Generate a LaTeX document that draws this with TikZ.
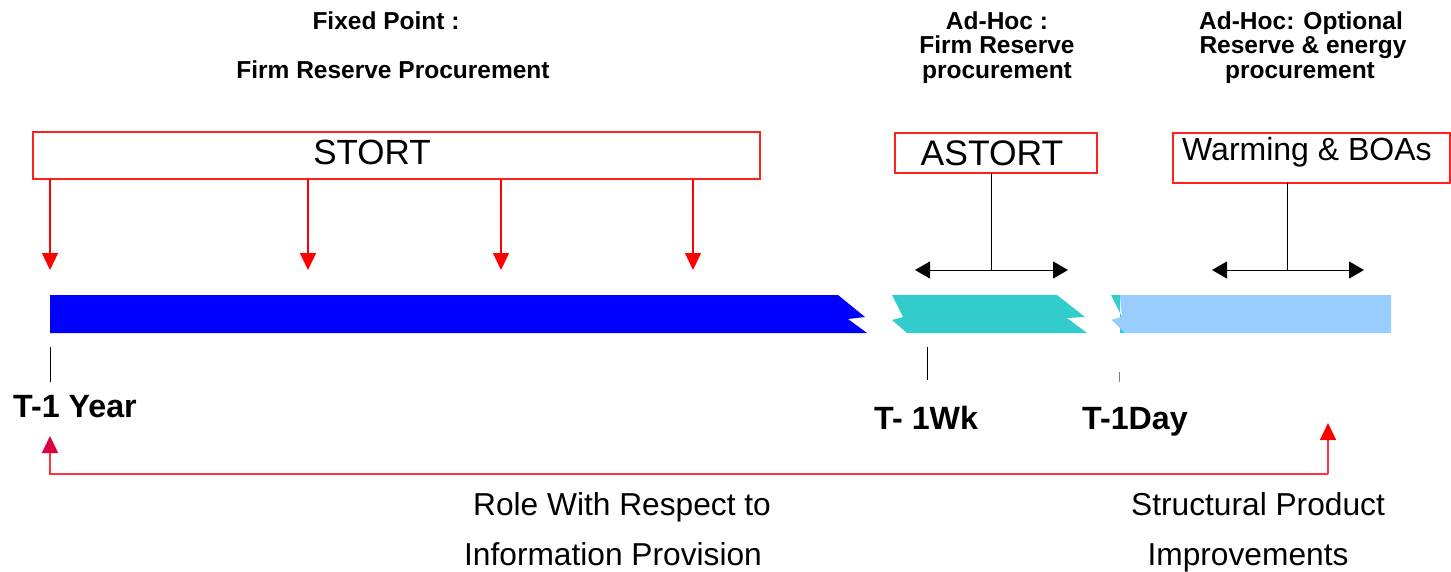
\documentclass[tikz,border=0pt]{standalone}
\usepackage{fontspec}
\setmainfont{Liberation Sans}
\usetikzlibrary{arrows.meta}
\definecolor{barblue}{HTML}{0000FF}
\definecolor{barteal}{HTML}{33CCCC}
\definecolor{barlight}{HTML}{99CCFF}
\definecolor{boxred}{HTML}{FF2020}
\definecolor{fbred}{HTML}{FF3344}
\definecolor{crimson}{HTML}{DD0040}
\begin{document}
\begin{tikzpicture}[x=1pt,y=-1pt,
  toplbl/.style={font=\fontsize{24.5}{26}\selectfont\bfseries, anchor=base, inner sep=0pt},
  boxlbl/.style={font=\fontsize{35}{38}\selectfont, anchor=base, inner sep=0pt},
  tlbl/.style={font=\fontsize{32.2}{34}\selectfont\bfseries, anchor=base west, inner sep=0pt},
  botlbl/.style={font=\fontsize{31.7}{34}\selectfont, anchor=base, inner sep=0pt},
  redbox/.style={draw=boxred, line width=1.3pt, rectangle, inner sep=0pt},
  redarrow/.style={draw=red, line width=1.3pt, -{Triangle[length=17pt,width=16pt]}},
  blackarrow/.style={draw=black, line width=1pt, {Triangle[length=15pt,width=17pt]}-{Triangle[length=15pt,width=17pt]}},
  stem/.style={draw=black, line width=1pt},
  tick/.style={draw=black, line width=1pt}
]
\useasboundingbox (0,0) rectangle (1451,572);

% top labels
\node[toplbl] (fp1) at (386,30) {Fixed Point :};
\node[toplbl] (fp2) at (393,79) {Firm Reserve Procurement};
\node[toplbl] (ah1) at (997,30) {Ad-Hoc :};
\node[toplbl] (ah2) at (997,54) {Firm Reserve};
\node[toplbl] (ah3) at (997,79) {procurement};
\node[toplbl] (ao1) at (1301,30) {Ad-Hoc: Optional};
\node[toplbl] (ao2) at (1303,54) {Reserve \& energy};
\node[toplbl] (ao3) at (1300,79) {procurement};

% boxes
\node[redbox, minimum width=727pt, minimum height=47pt] (stortbox) at (396.5,155.5) {};
\node[boxlbl] (stort) at (372,165) {STORT};
\node[redbox, minimum width=202pt, minimum height=40pt] (astortbox) at (996,153) {};
\node[boxlbl, font=\fontsize{35.5}{38}\selectfont] (astort) at (992,166) {ASTORT};
\node[redbox, minimum width=277pt, minimum height=50pt] (warmbox) at (1311.5,158) {};
\node[boxlbl, anchor=base west, font=\fontsize{32}{34}\selectfont] (warm) at (1182,161) {Warming \& BOAs};

% red arrows from STORT
\foreach \x/\n in {50/a,308/b,501/c,693/d}{
  \coordinate (s\n) at (\x,179);
  \coordinate (t\n) at (\x,270);
  \draw[redarrow] (s\n) -- (t\n);
}

% black double arrows
\coordinate (astortbot) at (991,173);
\coordinate (astortmid) at (991,270);
\coordinate (aL) at (915,270);
\coordinate (aR) at (1068,270);
\draw[stem] (astortbot) -- (astortmid);
\draw[blackarrow] (aL) -- (aR);
\coordinate (warmbot) at (1287,183);
\coordinate (warmmid) at (1287,270);
\coordinate (wL) at (1212,270);
\coordinate (wR) at (1364,270);
\draw[stem] (warmbot) -- (warmmid);
\draw[blackarrow] (wL) -- (wR);

% bars
\fill[barblue] (50,295) -- (838,295) -- (865,317) -- (848,319) -- (867,333) -- (50,333) -- cycle;
\fill[barteal] (892,295) -- (1057,295) -- (1085,317) -- (1067,318) -- (1087,333) -- (907,333) -- (892,320) -- (903,317) -- cycle;
\fill[barteal] (1111,295) -- (1120,295) -- (1120,333) -- (1125,333) -- (1112,320) -- (1122,317) -- cycle;
\fill[barlight] (1120,295) -- (1391,295) -- (1391,333) -- (1125,333) -- (1112,320) -- (1122,317) -- cycle;

% ticks
\draw[tick] (50,347) -- (50,382);
\draw[tick] (927,347) -- (927,380);
\draw[draw=gray, line width=1pt] (1119,372) -- (1119,382);

% time labels
\node[tlbl] (ty) at (13,417) {T-1 Year};
\node[tlbl] (tw) at (874,429) {T- 1Wk};
\node[tlbl] (td) at (1082,429) {T-1Day};

% feedback arrows
\coordinate (fbcorner) at (1328,474);
\coordinate (fbleft) at (50,436);
\coordinate (fbright) at (1328,423);
\draw[draw=fbred, line width=1.3pt, -{Triangle[length=17pt,width=16pt, color=crimson, fill=crimson]}] (fbcorner) -| (fbleft);
\draw[draw=fbred, line width=1.3pt, -{Triangle[length=17pt,width=16pt, color=red, fill=red]}] (fbcorner) -- (fbright);

% bottom labels
\node[botlbl] (r1) at (622,515) {Role With Respect to};
\node[botlbl] (r2) at (613,565) {Information Provision};
\node[botlbl] (s1) at (1258,515) {Structural Product};
\node[botlbl] (s2) at (1248,565) {Improvements};
\end{tikzpicture}
\end{document}
